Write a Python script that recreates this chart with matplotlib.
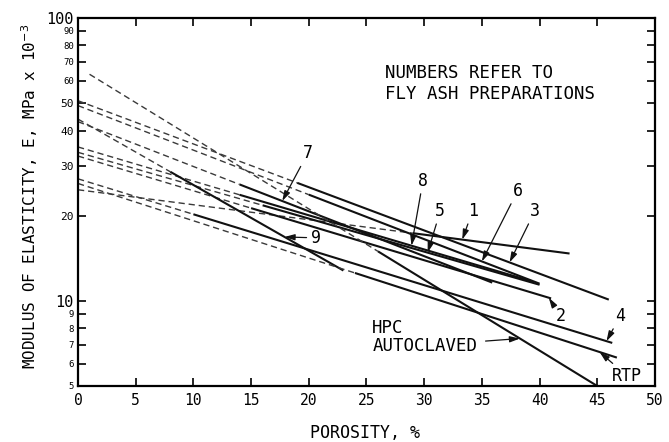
import numpy as np
import matplotlib.pyplot as plt
from matplotlib.ticker import FixedLocator, NullLocator

plt.rcParams['font.family'] = 'DejaVu Sans Mono'
plt.rcParams['mathtext.fontset'] = 'dejavusans'

# one entry per preparation: E at zero porosity, porosity where the measured
# (solid) range starts, end of the measured range and E there
line_name = ['1', '2', '3', '4', '5', '6', '7', '8', '9', 'RTP', 'HPC']
p_first   = [0, 0, 0, 0, 0, 0, 0, 0, 0, 0, 1.0]
e_zero    = [24.7, 32.5, 51.0, 27.0, 33.5, 49.0, 43.0, 35.0, 43.9, 26.0, 67.0]
p_solid   = [29.0, 15.0, 19.0, 10.0, 16.0, 20.0, 14.0, 14.0, 8.0, 24.0, 26.0]
p_end     = [42.6, 41.0, 46.0, 46.3, 40.0, 40.0, 35.9, 39.4, 23.0, 46.7, 45.0]
e_end     = [14.7, 10.2, 10.1, 7.1, 11.4, 11.5, 11.6, 11.7, 12.8, 6.3, 5.0]

# label text position (porosity, E) and porosity the arrow points at
lab_pos = {'7': (19.9, 33.2), '8': (29.9, 26.6), '5': (31.4, 20.8), '1': (34.2, 20.8),
           '6': (38.1, 24.5), '3': (39.6, 20.8), '2': (41.8, 8.85), '4': (47.0, 8.85),
           'RTP': (47.6, 5.42), '9': (20.6, 16.7)}
lab_tip = {'7': 17.7, '8': 28.9, '5': 30.3, '1': 33.3, '6': 35.0, '3': 37.4,
           '2': 40.8, '4': 45.8, 'RTP': 45.2, '9': 17.9, 'HPC': 38.3}

x_ticks = np.arange(0, 51, 5)
y_ticks = [5, 6, 7, 8, 9, 10, 20, 30, 40, 50, 60, 70, 80, 90, 100]
y_big = [10, 100]
y_mid = [20, 30, 40, 50]


def modulus(i, p):
    # straight line on the semilog plot through (0, e_zero) and (p_end, e_end)
    a = np.log10(e_zero[i])
    b = np.log10(e_end[i])
    return 10 ** (a + (b - a) * np.asarray(p) / p_end[i])


fig = plt.figure(figsize=(6.69, 4.42), dpi=100)
ax = fig.add_axes([0.1166, 0.1267, 0.8624, 0.8326])
ax.set_yscale('log')

for i, nm in enumerate(line_name):
    pd = np.array([p_first[i], p_solid[i]])
    ax.plot(pd, modulus(i, pd), color='#3a3a3a', lw=1.0, dashes=(4.5, 2.8))
    ps = np.array([p_solid[i], p_end[i]])
    ax.plot(ps, modulus(i, ps), color='#111111', lw=1.5, solid_capstyle='butt')

arrow = dict(arrowstyle='-|>,head_length=0.6,head_width=0.18', color='#111111',
             lw=0.9, shrinkA=1, shrinkB=0, mutation_scale=10)
for nm, (px, py) in lab_pos.items():
    i = line_name.index(nm)
    tip = lab_tip[nm]
    ax.annotate(nm, xy=(tip, modulus(i, tip)), xytext=(px, py), fontsize=12,
                ha='center', va='center', arrowprops=arrow)

i = line_name.index('HPC')
ax.text(25.5, 8.0, 'HPC', fontsize=12.5, ha='left', va='center')
ax.annotate('AUTOCLAVED', xy=(lab_tip['HPC'], modulus(i, lab_tip['HPC'])),
            xytext=(25.5, 6.95), fontsize=12.5, ha='left', va='center',
            arrowprops=dict(arrow, shrinkA=4))

ax.text(0.532, 0.875, 'NUMBERS REFER TO\nFLY ASH PREPARATIONS', transform=ax.transAxes,
        fontsize=12.5, ha='left', va='top', linespacing=1.25)

ax.set_xlim(0, 50)
ax.set_ylim(5, 100)
ax.xaxis.set_major_locator(FixedLocator(x_ticks))
ax.set_xticklabels([str(v) for v in x_ticks])
ax.yaxis.set_major_locator(FixedLocator(y_ticks))
ax.yaxis.set_minor_locator(NullLocator())
ax.set_yticklabels([str(v) for v in y_ticks])
for t, v in zip(ax.get_yticklabels(), y_ticks):
    if v in y_big:
        t.set_fontsize(11)
    elif v in y_mid:
        t.set_fontsize(8)
    else:
        t.set_fontsize(6.5)

ax.tick_params(axis='both', which='major', direction='in', length=5.5, width=1.2,
               top=True, right=True, pad=3)
ax.tick_params(axis='x', labelsize=10.5, pad=5)
for s in ax.spines.values():
    s.set_linewidth(1.6)

fig.text(0.045, 0.556, r'MODULUS OF ELASTICITY, E, MPa x 10$^{-3}$', rotation=90,
         fontsize=11.5, ha='center', va='center')
fig.text(0.546, 0.02, 'POROSITY, %', fontsize=12, ha='center', va='center')

fig.savefig('out.png', dpi=100)
